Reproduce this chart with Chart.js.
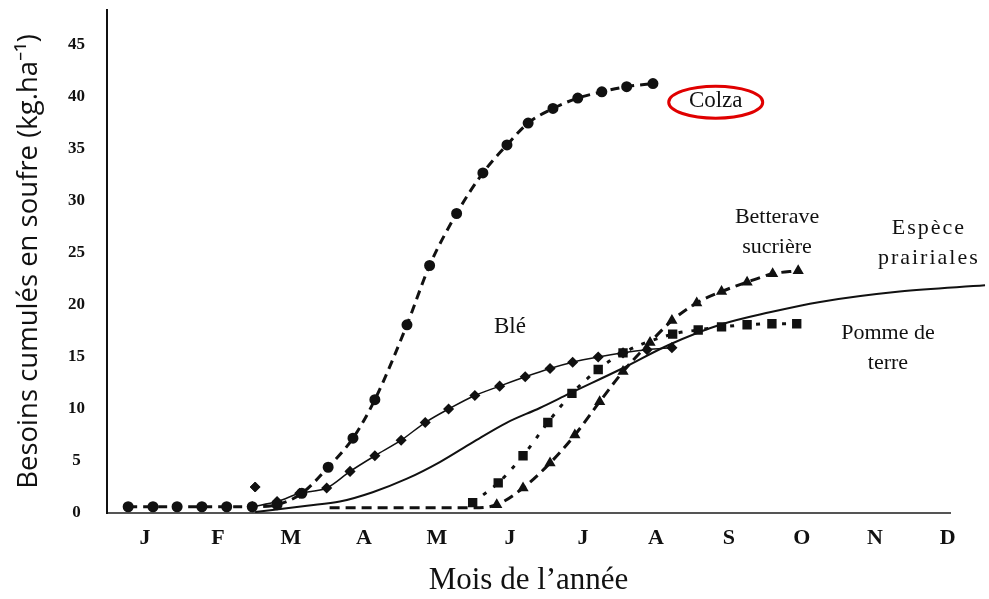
<!DOCTYPE html>
<html>
<head>
<meta charset="utf-8">
<script src="https://cdn.jsdelivr.net/npm/chart.js@4.4.1/dist/chart.umd.min.js"></script>
<style>
  body { margin: 0; background: #fff; }
  #wrap { width: 989px; height: 599px; }
</style>
</head>
<body>
<div id="wrap"><canvas id="chart" width="989" height="599"></canvas></div>
<script>
// Mois de l'année (positions 0..11 sur l'axe x)
const mois = ['J', 'F', 'M', 'A', 'M', 'J', 'J', 'A', 'S', 'O', 'N', 'D'];
const yTicks = [0, 5, 10, 15, 20, 25, 30, 35, 40, 45];

// Colza
const colzaX = [-0.23, 0.11, 0.44, 0.78, 1.12, 1.47, 1.81, 2.15, 2.51, 2.85, 3.15, 3.59, 3.90, 4.27, 4.63, 4.96, 5.25, 5.59, 5.93, 6.26, 6.60, 6.96];
const colzaY = [0.6, 0.6, 0.6, 0.6, 0.6, 0.6, 0.8, 1.9, 4.4, 7.2, 10.9, 18.1, 23.8, 28.8, 32.7, 35.4, 37.5, 38.9, 39.9, 40.5, 41.0, 41.3];

// Blé
const bleX = [1.47, 1.81, 2.12, 2.49, 2.81, 3.15, 3.51, 3.84, 4.16, 4.52, 4.86, 5.21, 5.55, 5.86, 6.21, 6.55, 6.88, 7.22];
const bleY = [0.6, 1.1, 1.9, 2.4, 4.0, 5.5, 7.0, 8.7, 10.0, 11.3, 12.2, 13.1, 13.9, 14.5, 15.0, 15.4, 15.7, 15.9];
// point isolé (losange) près de mars
const isoleX = [1.51];
const isoleY = [2.5];

// Espèce prairiales
const prairieX = [1.51, 2.22, 2.67, 3.12, 3.59, 4.04, 4.49, 4.96, 5.41, 5.82, 6.51, 7.19, 7.88, 8.56, 9.25, 10.34, 11.51];
const prairieY = [0.1, 0.7, 1.1, 2.0, 3.3, 4.9, 6.8, 8.7, 10.1, 11.5, 13.8, 16.2, 18.1, 19.3, 20.3, 21.3, 21.9];

// Betterave sucrière
const betteraveX = [2.53, 3.49, 4.49, 4.82, 5.18, 5.55, 5.89, 6.23, 6.55, 6.92, 7.22, 7.56, 7.90, 8.25, 8.60, 8.95];
const betteraveY = [0.5, 0.5, 0.5, 0.8, 2.4, 4.8, 7.5, 10.7, 13.6, 16.4, 18.5, 20.2, 21.3, 22.2, 23.0, 23.3];

// Pomme de terre
const pommeX = [4.49, 4.84, 5.18, 5.52, 5.85, 6.21, 6.55, 7.23, 7.58, 7.90, 8.25, 8.59, 8.93];
const pommeY = [1.0, 2.9, 5.5, 8.7, 11.5, 13.8, 15.4, 17.2, 17.6, 17.9, 18.1, 18.2, 18.2];

const pts = (xs, ys) => xs.map((x, i) => ({ x: x, y: ys[i] }));

// Étiquettes des courbes (coordonnées en unités du graphique)
const etiquettes = [
  { lignes: ['Colza'], x: 7.82, y: 39.6, taille: 23, cercle: true },
  { lignes: ['Blé'], x: 5.0, y: 17.9, taille: 23 },
  { lignes: ['Betterave', 'sucrière'], x: 8.66, y: 28.4, taille: 22 },
  { lignes: ['Espèce', 'prairiales'], x: 10.74, y: 27.4, taille: 22, espace: '2px' },
  { lignes: ['Pomme de', 'terre'], x: 10.18, y: 17.3, taille: 22 }
];

const etiquettesPlugin = {
  id: 'etiquettes',
  afterDraw(chart) {
    const ctx = chart.ctx;
    const sx = chart.scales.x, sy = chart.scales.y;
    ctx.save();
    ctx.fillStyle = '#111';
    ctx.textAlign = 'center';
    ctx.textBaseline = 'middle';
    etiquettes.forEach(e => {
      const px = sx.getPixelForValue(e.x);
      const py = sy.getPixelForValue(e.y);
      ctx.font = e.taille + 'px "Liberation Serif"';
      ctx.letterSpacing = e.espace || '0px';
      e.lignes.forEach((t, i) => ctx.fillText(t, px, py + i * 30));
      if (e.cercle) {
        ctx.beginPath();
        ctx.ellipse(px, py + 1, 47, 16, 0, 0, Math.PI * 2);
        ctx.strokeStyle = '#e00000';
        ctx.lineWidth = 3;
        ctx.stroke();
      }
    });
    ctx.restore();
  }
};

new Chart(document.getElementById('chart'), {
  type: 'scatter',
  data: {
    datasets: [
      {
        label: 'Colza',
        data: pts(colzaX, colzaY),
        showLine: true,
        cubicInterpolationMode: 'monotone',
        borderColor: '#111',
        borderWidth: 3,
        borderDash: [9, 6],
        pointStyle: 'circle',
        pointRadius: 4,
        backgroundColor: '#111'
      },
      {
        label: 'Blé',
        data: pts(bleX, bleY),
        showLine: true,
        cubicInterpolationMode: 'monotone',
        borderColor: '#111',
        borderWidth: 1.5,
        pointStyle: 'rectRot',
        pointRadius: 4.5,
        backgroundColor: '#111'
      },
      {
        label: 'Blé (isolé)',
        data: pts(isoleX, isoleY),
        pointStyle: 'rectRot',
        pointRadius: 5,
        backgroundColor: '#111',
        borderColor: '#111'
      },
      {
        label: 'Espèce prairiales',
        data: pts(prairieX, prairieY),
        showLine: true,
        clip: false,
        cubicInterpolationMode: 'monotone',
        borderColor: '#111',
        borderWidth: 2,
        pointRadius: 0
      },
      {
        label: 'Betterave sucrière',
        data: pts(betteraveX, betteraveY),
        showLine: true,
        cubicInterpolationMode: 'monotone',
        borderColor: '#111',
        borderWidth: 3,
        borderDash: [10, 6],
        pointStyle: 'triangle',
        pointRadius: c => (c.raw && c.raw.y > 0.6 ? 3.5 : 0),
        backgroundColor: '#111'
      },
      {
        label: 'Pomme de terre',
        data: pts(pommeX, pommeY),
        showLine: true,
        cubicInterpolationMode: 'monotone',
        borderColor: '#111',
        borderWidth: 3,
        borderDash: [4, 9],
        pointStyle: 'rect',
        pointRadius: 4.5,
        backgroundColor: '#111'
      }
    ]
  },
  options: {
    responsive: false,
    animation: false,
    layout: { padding: { left: 0, top: 10, right: 39, bottom: 0 } },
    plugins: {
      legend: { display: false },
      tooltip: { enabled: false }
    },
    scales: {
      x: {
        type: 'linear',
        min: -0.52,
        max: 11.03,
        afterBuildTicks: s => { s.ticks = mois.map((m, i) => ({ value: i })); },
        afterFit: s => { s.height = 86; s.paddingLeft = 0; s.paddingRight = 0; },
        ticks: {
          callback: v => mois[v],
          color: '#111',
          font: { family: 'Liberation Serif', size: 22, weight: 'bold' },
          padding: 12,
          maxRotation: 0,
          autoSkip: false
        },
        grid: { display: false, drawTicks: false },
        border: { color: '#555', width: 2 },
        title: {
          display: true,
          text: 'Mois de l\u2019année',
          color: '#111',
          font: { family: 'Liberation Serif', size: 31 },
          padding: { top: 0, bottom: 0 }
        }
      },
      y: {
        min: 0,
        max: 48.37,
        afterBuildTicks: s => { s.ticks = yTicks.map(v => ({ value: v })); },
        afterFit: s => { s.width = 107; s.paddingTop = 0; s.paddingBottom = 0; },
        ticks: {
          color: '#111',
          font: { family: 'Liberation Serif', size: 17, weight: 'bold' },
          padding: 22,
          crossAlign: 'center'
        },
        grid: { display: false, drawTicks: false },
        border: { color: '#111', width: 2 },
        title: {
          display: true,
          text: 'Besoins cumulés en soufre (kg.ha\u207B\u00B9)',
          color: '#111',
          font: { family: 'Open Sans', size: 27.5 },
          padding: { top: 13, bottom: 0 }
        }
      }
    }
  },
  plugins: [etiquettesPlugin]
});
</script>
</body>
</html>
